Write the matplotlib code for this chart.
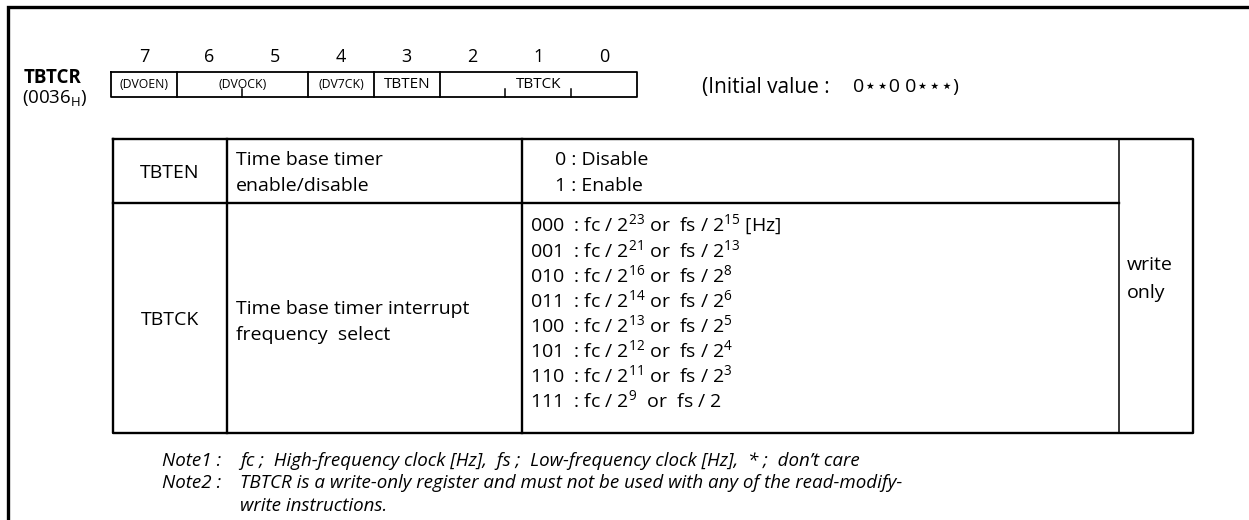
import matplotlib
matplotlib.use("Agg")
import matplotlib.pyplot as plt

plt.rcParams['font.family'] = ['Open Sans', 'DejaVu Sans']
plt.rcParams['mathtext.fontset'] = 'custom'
plt.rcParams['mathtext.rm'] = 'Open Sans'
plt.rcParams['mathtext.it'] = 'Open Sans:italic'
plt.rcParams['mathtext.bf'] = 'Open Sans:bold'

# ---- data ----
register_name = "TBTCR"
register_addr = "0036"
bit_numbers = [7, 6, 5, 4, 3, 2, 1, 0]
field_names = ["(DVOEN)", "(DVOCK)", "(DV7CK)", "TBTEN", "TBTCK"]
field_bits = [1, 2, 1, 1, 3]
field_small = [True, True, True, False, False]
initial_label = "(Initial value :"
initial_value = "0⋆⋆0 0⋆⋆⋆)"

row_names = ["TBTEN", "TBTCK"]
row_desc = [["Time base timer", "enable/disable"],
            ["Time base timer interrupt", "frequency  select"]]
tbten_options = ["0 : Disable", "1 : Enable"]
tbtck_codes = ["000", "001", "010", "011", "100", "101", "110", "111"]
fc_exp = ["23", "21", "16", "14", "13", "12", "11", "9"]
fs_exp = ["15", "13", "8", "6", "5", "4", "3", ""]
access = ["write", "only"]
notes = [("Note1 :", ["fc ;  High-frequency clock [Hz],  fs ;  Low-frequency clock [Hz],  * ;  don\u2019t care"]),
         ("Note2 :", ["TBTCR is a write-only register and must not be used with any of the read-modify-",
                      "write instructions."])]

W, H = 1249, 520
fig = plt.figure(figsize=(W / 100, H / 100), dpi=100)
ax = fig.add_axes([0, 0, 1, 1])
ax.set_xlim(0, W)
ax.set_ylim(H, 0)
ax.axis('off')

K = 'black'
# outer frame
ax.plot([8, 8, W + 5], [H + 5, 7, 7], color=K, lw=2.4, solid_capstyle='butt', solid_joinstyle='miter')

# register label
ax.text(24, 78, register_name, fontsize=13.5, fontweight='bold', ha='left', va='center')
ax.text(22, 98, "(" + register_addr + r"$_\mathregular{H}$)", fontsize=13.5, ha='left', va='center')

# register box
bx0, bx1, by0, by1 = 111, 637, 72, 97
bw = (bx1 - bx0) / len(bit_numbers)
ax.plot([bx0, bx1, bx1, bx0, bx0], [by0, by0, by1, by1, by0], color=K, lw=1.3)
for i, b in enumerate(bit_numbers):
    ax.text(bx0 + bw * (i + 0.5), 57, str(b), fontsize=13, ha='center', va='center')
pos = 0
for name, nb, small in zip(field_names, field_bits, field_small):
    x0 = bx0 + bw * pos
    x1 = bx0 + bw * (pos + nb)
    if pos > 0:
        ax.plot([x0, x0], [by0, by1], color=K, lw=1.3)
    for k in range(1, nb):
        xt = bx0 + bw * (pos + k)
        ax.plot([xt, xt], [by1 - 8, by1], color=K, lw=1.1)
    ax.text((x0 + x1) / 2, 85, name, fontsize=8.8 if small else 11,
            ha='center', va='center')
    pos += nb

ax.text(702, 87, initial_label, fontsize=15, ha='left', va='center')
ax.text(853, 87, initial_value, fontsize=14, ha='left', va='center')

# table
tx0, tx1, tx2, tx3, tx4 = 113, 227, 522, 1119, 1193
ty0, ty1, ty2 = 139, 203, 433
lw_t = 1.7
ax.plot([tx0, tx4, tx4, tx0, tx0], [ty0, ty0, ty2, ty2, ty0], color=K, lw=lw_t)
ax.plot([tx0, tx3], [ty1, ty1], color=K, lw=lw_t)
for xc in (tx1, tx2):
    ax.plot([xc, xc], [ty0, ty2], color=K, lw=lw_t)
ax.plot([tx3, tx3], [ty0, ty2], color=K, lw=1.1)

fs_t = 14
ax.text((tx0 + tx1) / 2, 173, row_names[0], fontsize=fs_t, ha='center', va='center')
ax.text((tx0 + tx1) / 2, 320, row_names[1], fontsize=fs_t, ha='center', va='center')
ax.text(236, 160, row_desc[0][0], fontsize=fs_t, ha='left', va='center')
ax.text(236, 186, row_desc[0][1], fontsize=fs_t, ha='left', va='center')
ax.text(236, 309, row_desc[1][0], fontsize=fs_t, ha='left', va='center')
ax.text(236, 335, row_desc[1][1], fontsize=fs_t, ha='left', va='center')
ax.text(555, 160, tbten_options[0], fontsize=fs_t, ha='left', va='center')
ax.text(555, 186, tbten_options[1], fontsize=fs_t, ha='left', va='center')

y0, dy = 225, 25
for i, (code, e1, e2) in enumerate(zip(tbtck_codes, fc_exp, fs_exp)):
    s = code + "  : fc / " + r"$\mathregular{2^{" + e1 + r"}}$" + (" " if len(e1) == 1 else "") + " or  fs / "
    if e2:
        s += r"$\mathregular{2^{" + e2 + r"}}$"
    else:
        s += "2"
    if i == 0:
        s += " [Hz]"
    ax.text(530, y0 + dy * i, s, fontsize=fs_t, ha='left', va='center')

ax.text(1127, 265, access[0], fontsize=fs_t, ha='left', va='center')
ax.text(1127, 293, access[1], fontsize=fs_t, ha='left', va='center')

# notes
ny = 461
for label, lines in notes:
    ax.text(162, ny, label, fontsize=13.5, style='italic', ha='left', va='center')
    for ln in lines:
        ax.text(240, ny, ln, fontsize=13.5, style='italic', ha='left', va='center')
        ny += 22.5

fig.savefig("out.png", dpi=100)
